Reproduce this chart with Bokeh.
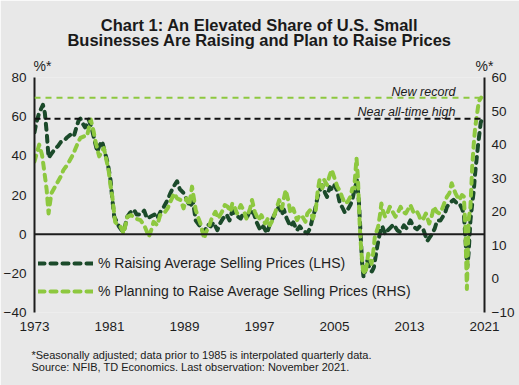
from bokeh.plotting import figure
from bokeh.models import Range1d, LinearAxis, Span, Label, Legend, LegendItem, FixedTicker, Title
from bokeh.embed import file_html
from bokeh.resources import INLINE

# ---------------- data ----------------
raise_years = [1973.0, 1973.2, 1973.5, 1973.7, 1973.9, 1974.1, 1974.3, 1974.5, 1974.8, 1975.1, 1975.5, 1975.8,
               1976.2, 1976.5, 1976.9, 1977.2, 1977.5, 1977.7, 1977.9, 1978.2, 1978.4, 1978.8, 1979.1, 1979.4,
               1979.7, 1979.9, 1980.2, 1980.5, 1980.8, 1981.1, 1981.3, 1981.5, 1981.8, 1982.0, 1982.3, 1982.5,
               1982.7, 1982.9, 1983.2, 1983.6, 1983.9, 1984.3, 1984.7, 1985.0, 1985.4, 1985.8, 1986.1, 1986.5,
               1986.8, 1987.2, 1987.5, 1987.8, 1988.2, 1988.5, 1988.9, 1989.2, 1989.6, 1989.9, 1990.2, 1990.5,
               1990.7, 1991.0, 1991.2, 1991.5, 1991.8, 1992.1, 1992.5, 1992.8, 1993.1, 1993.5, 1993.8, 1994.1,
               1994.3, 1994.7, 1995.0, 1995.3, 1995.7, 1996.0, 1996.4, 1996.7, 1997.1, 1997.4, 1997.8, 1998.1,
               1998.5, 1998.8, 1999.1, 1999.4, 1999.6, 1999.9, 2000.3, 2000.6, 2001.0, 2001.3, 2001.6, 2001.9,
               2002.1, 2002.4, 2002.6, 2002.9, 2003.2, 2003.4, 2003.7, 2004.0, 2004.2, 2004.5, 2004.8, 2005.0,
               2005.3, 2005.6, 2005.8, 2006.1, 2006.4, 2006.7, 2006.9, 2007.1, 2007.4, 2007.6, 2007.8, 2007.95,
               2008.1, 2008.3, 2008.5, 2008.8, 2009.0, 2009.2, 2009.4, 2009.55, 2009.9, 2010.1, 2010.4, 2010.7,
               2011.0, 2011.3, 2011.7, 2012.0, 2012.4, 2012.7, 2013.1, 2013.4, 2013.8, 2014.1, 2014.5, 2014.9,
               2015.1, 2015.4, 2015.7, 2015.95, 2016.3, 2016.5, 2016.8, 2017.0, 2017.3, 2017.7, 2018.0, 2018.3,
               2018.6, 2018.8, 2018.95, 2019.15, 2019.3, 2019.5, 2019.7, 2019.85, 2020.0, 2020.15, 2020.3, 2020.45,
               2020.6, 2020.75]
raise_vals = [52, 57, 62, 64, 66, 62, 52, 39, 41, 43, 45, 47,
              48, 49.5, 51, 50, 55, 58, 59, 56, 54.5, 58.5, 54, 48,
              42, 45, 47.5, 42, 36.5, 28, 18, 9, 6, 4, 2, 1,
              5, 9, 11, 12.5, 10, 10, 12, 8, 9, 10, 8, 12,
              14, 17.5, 21, 24, 27, 23, 21, 18, 14, 17, 7, 5,
              4, 1, 2, 5, 4, 6, 2, 5.5, 8, 10, 7, 12,
              10.5, 9, 8, 11, 9, 12, 10.5, 6, 2, 4, 0.5, 5,
              9, 12, 14, 10, 12.5, 8, 4, 6, 2, 4, 2, 1,
              0.5, 3, 7, 12, 19, 22, 25, 21, 19, 24, 22.5, 25,
              22, 15, 14, 11, 12.5, 15, 17.5, 22, 27.5, 17, -1.5, -15,
              -22, -18, -13.5, -18.5, -19, -17, -11, -6.5, 2, 4, 0, 2,
              3.5, 5, 2, 1, 4.5, 3, 7, 4, 2.5, 4, 2, -3.5,
              -2, 0, 3, 7, 7, 8.5, 11, 14, 16, 17.5, 16, 16,
              13, 10.5, -1, -17, -10, 7, 16, 22, 31, 38, 45, 51,
              57, 59]

plan_years = [1973.0, 1973.3, 1973.5, 1973.8, 1974.0, 1974.3, 1974.5, 1974.8, 1975.1, 1975.4, 1975.8, 1976.1,
              1976.5, 1976.8, 1977.1, 1977.4, 1977.7, 1977.9, 1978.3, 1978.6, 1978.8, 1979.0, 1979.3, 1979.5,
              1979.9, 1980.2, 1980.4, 1980.7, 1980.9, 1981.1, 1981.3, 1981.6, 1981.9, 1982.2, 1982.5, 1982.7,
              1982.9, 1983.3, 1983.8, 1984.3, 1984.7, 1985.0, 1985.2, 1985.5, 1985.7, 1986.1, 1986.4, 1986.8,
              1987.2, 1987.5, 1987.9, 1988.2, 1988.6, 1988.9, 1989.2, 1989.5, 1989.8, 1990.0, 1990.2, 1990.5,
              1990.7, 1991.1, 1991.3, 1991.6, 1991.9, 1992.3, 1992.6, 1993.0, 1993.3, 1993.6, 1993.9, 1994.1,
              1994.4, 1994.6, 1995.0, 1995.3, 1995.6, 1996.0, 1996.2, 1996.5, 1996.9, 1997.2, 1997.6, 1997.9,
              1998.1, 1998.4, 1998.7, 1999.1, 1999.4, 1999.6, 1999.8, 2000.1, 2000.3, 2000.6, 2001.0, 2001.3,
              2001.6, 2001.9, 2002.1, 2002.4, 2002.7, 2003.0, 2003.2, 2003.4, 2003.7, 2003.9, 2004.2, 2004.5,
              2004.7, 2005.0, 2005.3, 2005.6, 2005.8, 2006.1, 2006.4, 2006.7, 2006.9, 2007.1, 2007.35, 2007.5,
              2007.7, 2007.85, 2008.05, 2008.3, 2008.6, 2008.95, 2009.1, 2009.3, 2009.65, 2009.85, 2010.0, 2010.2,
              2010.4, 2010.7, 2010.9, 2011.2, 2011.5, 2011.8, 2012.05, 2012.3, 2012.6, 2012.9, 2013.1, 2013.4,
              2013.7, 2014.0, 2014.2, 2014.5, 2014.75, 2015.1, 2015.4, 2015.6, 2015.9, 2016.2, 2016.5, 2016.7,
              2017.0, 2017.25, 2017.5, 2017.7, 2017.9, 2018.1, 2018.3, 2018.6, 2018.8, 2018.95, 2019.05, 2019.12,
              2019.2, 2019.3, 2019.5, 2019.7, 2019.85, 2020.0, 2020.2, 2020.4, 2020.65]
plan_vals = [35, 38, 40, 37, 33, 26.5, 19.5, 25.5, 27, 28.5, 30.5, 32.5,
             34, 35.5, 37, 39, 41, 42, 42.5, 42.5, 45, 47.5, 44, 41,
             36.5, 38, 39, 35, 32.5, 28, 24.5, 17, 16, 15.5, 13.5, 16,
             18.5, 19, 18, 17.5, 16, 14, 12.5, 15, 17, 16, 19, 19.5,
             21, 23, 25.5, 24, 23.5, 21, 24, 22, 27.5, 24, 20.5, 18,
             16.5, 12, 14, 15.5, 18, 20, 18, 20, 22, 21.5, 20, 22.5,
             21, 19.5, 22, 20.5, 18, 21, 23.5, 20, 17.5, 19, 16.5, 18,
             16, 17.5, 20, 23.5, 21, 24, 26.5, 23, 19.5, 21, 17.5, 19,
             18.5, 17, 19.5, 20.5, 18, 20.5, 26, 29.5, 27, 29.5, 28, 31,
             32.5, 30, 27.5, 26, 24.5, 22.5, 23, 24.5, 27, 27, 36, 30,
             15.5, 8.5, 2.5, 1.5, 7.5, 4.5, 7, 12.5, 15.5, 19, 22.5, 20,
             18.5, 20, 21.5, 20, 18.5, 20, 21.5, 20, 19.5, 21, 22, 20,
             20.5, 19, 17.5, 18, 19.5, 16.5, 19, 21.5, 20, 19.5, 21, 22.5,
             24.5, 25.5, 28.5, 27, 25.5, 24.5, 23.5, 25, 24.5, 16, 5, -3,
             5, 17.5, 21.5, 34, 40, 45, 49, 53, 54]

x_ticks = [1973, 1981, 1989, 1997, 2005, 2013, 2021]
lhs_ticks = [-40, -20, 0, 20, 40, 60, 80]
rhs_ticks = [-10, 0, 10, 20, 30, 40, 50, 60]
unit_ticks = [1973.85, 2021]
unit_label = "%*"
near_high_lhs = 59
new_record_rhs = 54

title_line1 = "Chart 1: An Elevated Share of U.S. Small"
title_line2 = "Businesses Are Raising and Plan to Raise Prices"
note_text = ("*Seasonally adjusted; data prior to 1985 is interpolated quarterly data.\n"
             "Source: NFIB, TD Economics. Last observation: November 2021.")
legend_labels = ["% Raising Average Selling Prices (LHS)",
                 "% Planning to Raise Average Selling Prices (RHS)"]

DARK = "#1b4a2a"
LIGHT = "#8dc83f"
BG = "#e8e8e8"
INK = "#1c1c1c"
FONT = "Liberation Sans"

p = figure(width=519, height=385, output_backend="svg", toolbar_location=None,
           x_range=Range1d(1973, 2021), y_range=Range1d(-40, 80),
           x_axis_type=None, y_axis_type=None,
           min_border_left=34, min_border_right=35, min_border_top=77, min_border_bottom=73)
p.title.visible = False
p.extra_y_ranges = {"rhs": Range1d(-10, 60)}
p.background_fill_color = BG
p.border_fill_color = BG
p.outline_line_color = None
p.xgrid.visible = False
p.ygrid.visible = False


def style_axis(ax, standoff, size="13.5px"):
    ax.axis_line_color = INK
    ax.axis_line_width = 2
    ax.major_tick_line_color = None
    ax.minor_tick_line_color = None
    ax.major_tick_out = 0
    ax.major_tick_in = 0
    ax.minor_tick_out = 0
    ax.minor_tick_in = 0
    ax.major_label_standoff = standoff
    ax.major_label_text_font = FONT
    ax.major_label_text_font_size = size
    ax.major_label_text_color = "#1e1e1e"


left = LinearAxis(ticker=FixedTicker(ticks=lhs_ticks))
style_axis(left, 8)
p.add_layout(left, "left")

right = LinearAxis(y_range_name="rhs", ticker=FixedTicker(ticks=rhs_ticks))
style_axis(right, 7)
p.add_layout(right, "right")

bottom = LinearAxis(ticker=FixedTicker(ticks=x_ticks))
style_axis(bottom, 9)
bottom.axis_line_color = None
p.add_layout(bottom, "below")

# unit markers above both value axes
top = LinearAxis(ticker=FixedTicker(ticks=unit_ticks),
                 major_label_overrides={t: unit_label for t in unit_ticks})
style_axis(top, 4, "14px")
top.axis_line_color = None
p.add_layout(top, "above")

title_style = dict(align="center", vertical_align="middle", text_font=FONT, text_font_size="16.5px",
                   text_font_style="bold", text_color="#1a1a1a")
p.add_layout(Title(text=title_line2, standoff=10, **title_style), "above")
p.add_layout(Title(text=title_line1, standoff=-22, **title_style), "above")

p.add_layout(Title(text=note_text, align="left", vertical_align="bottom", standoff=26, offset=-3,
                   text_font=FONT, text_font_size="11px", text_font_style="normal",
                   text_line_height=1.0, text_color="#1a1a1a"), "below")

p.add_layout(Span(location=0, dimension="width", line_color=INK, line_width=2))
p.add_layout(Span(location=near_high_lhs, dimension="width", line_color="#111111",
                  line_width=2, line_dash="6 4"))
p.add_layout(Span(location=new_record_rhs, dimension="width", y_range_name="rhs",
                  line_color=LIGHT, line_width=2, line_dash="6 5"))

r_dark = p.line(raise_years, raise_vals, line_color=DARK, line_width=4,
                line_dash="6 6", line_cap="round", line_join="round")
r_light = p.line(plan_years, plan_vals, y_range_name="rhs", line_color=LIGHT, line_width=4,
                 line_dash="6 6", line_cap="round", line_join="round")

legend = Legend(items=[LegendItem(label=legend_labels[0], renderers=[r_dark]),
                       LegendItem(label=legend_labels[1], renderers=[r_light])],
                location=(4, 11), glyph_width=55, glyph_height=20, label_height=20, spacing=8,
                padding=0, margin=0, border_line_color=None, background_fill_alpha=0,
                label_text_font=FONT, label_text_font_size="14px", label_text_color="#1e1e1e",
                label_standoff=5)
p.add_layout(legend)


def ly(page_y):
    return (312.0 - page_y) / 1.958 - 40


def lx(page_x):
    return 1973 + (page_x - 34) / 9.375


p.add_layout(Label(x=lx(455), y=ly(91.5), text="New record", text_font=FONT, text_font_size="12.5px",
                   text_font_style="italic", text_align="right", text_baseline="middle", text_color="#1a1a1a"))
p.add_layout(Label(x=lx(455), y=ly(112), text="Near all-time high", text_font=FONT, text_font_size="12.5px",
                   text_font_style="italic", text_align="right", text_baseline="middle", text_color="#1a1a1a"))

open("out.html", "w").write(file_html(p, INLINE))
